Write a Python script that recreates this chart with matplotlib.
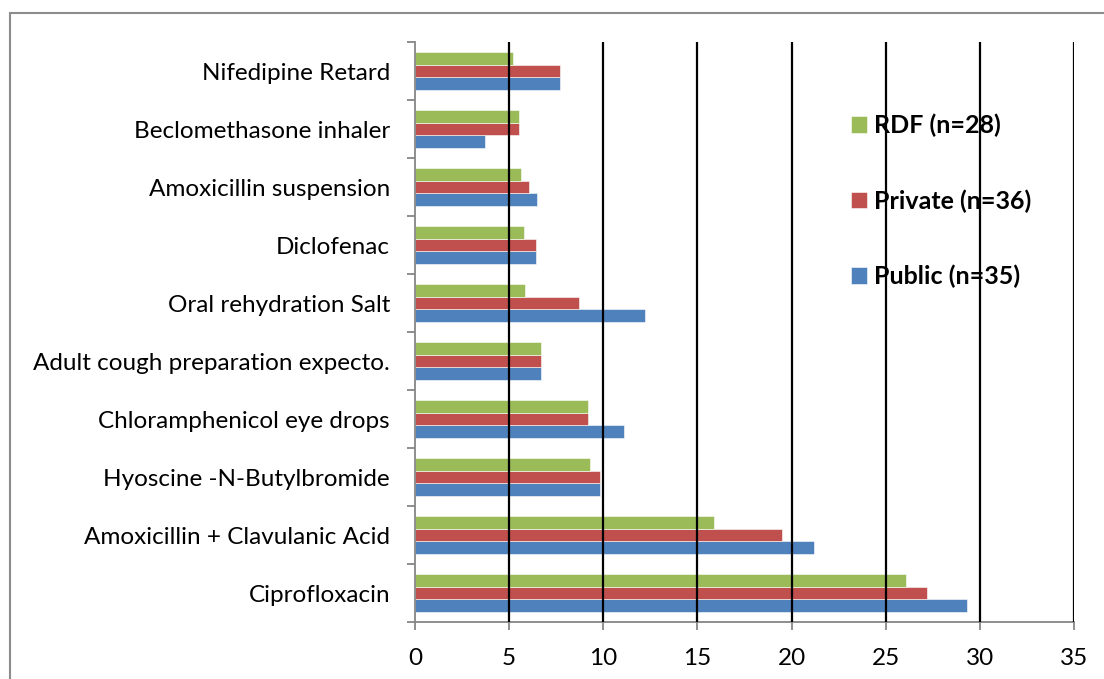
import matplotlib
matplotlib.use("Agg")
import matplotlib.pyplot as plt
from matplotlib.patches import Rectangle
import numpy as np

categories = [
    "Ciprofloxacin",
    "Amoxicillin + Clavulanic Acid",
    "Hyoscine -N-Butylbromide",
    "Chloramphenicol eye drops",
    "Adult cough preparation expecto.",
    "Oral rehydration Salt",
    "Diclofenac",
    "Amoxicillin suspension",
    "Beclomethasone inhaler",
    "Nifedipine Retard",
]
public = [29.3, 21.2, 9.8, 11.1, 6.7, 12.2, 6.4, 6.5, 3.7, 7.7]
private = [27.2, 19.5, 9.8, 9.2, 6.7, 8.7, 6.4, 6.05, 5.5, 7.7]
rdf = [26.1, 15.9, 9.3, 9.2, 6.7, 5.85, 5.8, 5.65, 5.5, 5.2]

series_labels = ["Public (n=35)", "Private (n=36)", "RDF (n=28)"]
colors = ["#4F81BD", "#C0504D", "#9BBB59"]
xticks = [0, 5, 10, 15, 20, 25, 30, 35]

plt.rcParams['font.family'] = ['Lato', 'DejaVu Sans']

fig = plt.figure(figsize=(11.04, 6.79), dpi=100)
ax = fig.add_axes([415/1104, 1 - 622/679, (1074-415)/1104, (622-42)/679])

y = np.arange(len(categories))
h = 0.22
handles = []
for i, (vals, lab, col) in enumerate(zip([public, private, rdf], series_labels, colors)):
    b = ax.barh(y + (i - 1) * h, vals, height=h, color=col, label=lab,
                edgecolor='white', linewidth=0.4, zorder=1)
    handles.append(b)

ax.set_xlim(0, 35)
ax.set_ylim(-0.5, len(categories) - 0.5)
ax.set_xticks(xticks)
ax.set_xticklabels([str(t) for t in xticks], fontsize=17.5)
ax.set_yticks(y)
ax.set_yticklabels(categories, fontsize=17.5)
ax.set_yticks(np.arange(-0.5, len(categories), 1), minor=True)
ax.tick_params(axis='y', which='major', length=0, pad=18)
ax.tick_params(axis='y', which='minor', length=6, color='#868686', width=1.3, direction='out')
ax.tick_params(axis='x', which='major', length=6, color='#868686', width=1.3, direction='out', pad=13)

for s in ['top', 'right']:
    ax.spines[s].set_visible(False)
for s in ['left', 'bottom']:
    ax.spines[s].set_color('#868686')
    ax.spines[s].set_linewidth(1.3)

for t in xticks[1:]:
    ax.axvline(t, color='black', linewidth=1.6, zorder=3)

leg = ax.legend(handles=handles[::-1], labels=series_labels[::-1], loc='upper left',
                bbox_to_anchor=(0.627, 0.915), frameon=False,
                prop={'weight': 'bold', 'size': 18}, labelspacing=2.08,
                handlelength=0.65, handleheight=0.65, handletextpad=0.3)
leg.set_zorder(2)

fig.patches.append(Rectangle((10/1104, -0.05), 1.2, 1.05 - 13/679,
                             transform=fig.transFigure, fill=False,
                             edgecolor='#8c8c8c', linewidth=1.5))

fig.savefig("out.png", dpi=100)
